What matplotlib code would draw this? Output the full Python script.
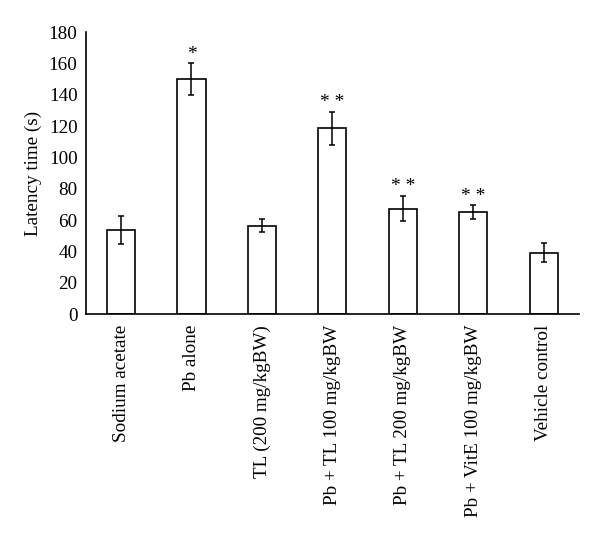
import matplotlib
matplotlib.use("Agg")
import matplotlib.pyplot as plt
import numpy as np

categories = ["Sodium acetate", "Pb alone", "TL (200 mg/kgBW)",
              "Pb + TL 100 mg/kgBW", "Pb + TL 200 mg/kgBW",
              "Pb + VitE 100 mg/kgBW", "Vehicle control"]
means = [53.5, 149.8, 56.3, 118.6, 67.2, 65.0, 39.2]
errors = [9.0, 10.2, 4.1, 10.6, 8.1, 4.4, 6.0]
marks = ["", "*", "", "**", "**", "**", ""]
yticks = [0, 20, 40, 60, 80, 100, 120, 140, 160, 180]

plt.rcParams['font.family'] = ['Liberation Serif', 'DejaVu Serif']

fig = plt.figure(figsize=(6, 5.4), dpi=100)
ax = fig.add_axes([0.143, 0.4185, 0.822, 0.522])

x = np.arange(len(categories))
ax.bar(x, means, width=0.4, color='white', edgecolor='black', linewidth=1.2, zorder=2)
ax.errorbar(x, means, yerr=errors, fmt='none', ecolor='black', elinewidth=1.1,
            capsize=2.5, capthick=1.1, zorder=3)
for xi, m, e, s in zip(x, means, errors, marks):
    if s:
        ax.text(xi, m + e + 0.5, " ".join(s), ha='center', va='bottom', fontsize=14)

ax.set_xlim(-0.5, len(categories) - 0.5)
ax.set_ylim(0, 180)
ax.set_yticks(yticks)
ax.set_xticks(x)
ax.set_xticklabels(categories, rotation=90, fontsize=13.8, va='top')
ax.tick_params(axis='y', length=0, labelsize=13.8, pad=6)
ax.tick_params(axis='x', length=0, pad=8)
ax.set_ylabel("Latency time (s)", fontsize=13.8, labelpad=5)
for s in ['top', 'right']:
    ax.spines[s].set_visible(False)
ax.spines['left'].set_linewidth(1.2)
ax.spines['bottom'].set_linewidth(1.2)

fig.savefig("out.png", dpi=100, facecolor='white')
